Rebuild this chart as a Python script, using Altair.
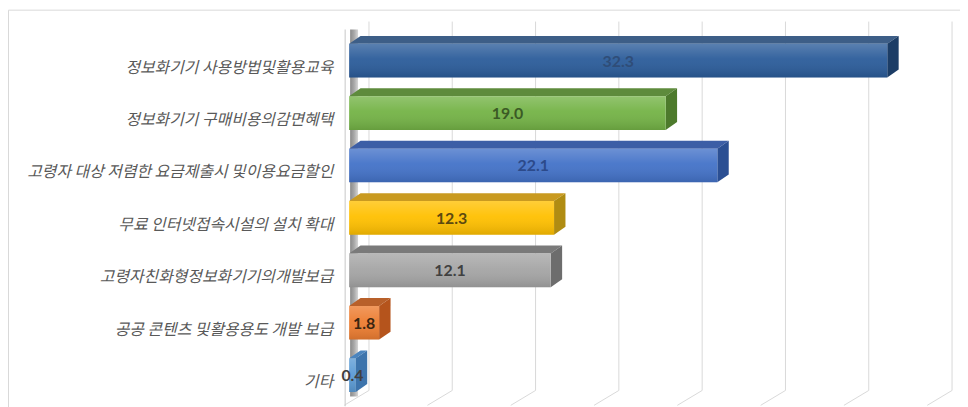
import altair as alt
import pandas as pd

# ---- data ----
categories = [
    "정보화기기 사용방법및활용교육",
    "정보화기기 구매비용의감면혜택",
    "고령자 대상 저렴한 요금제출시 및이용요금할인",
    "무료 인터넷접속시설의 설치 확대",
    "고령자친화형정보화기기의개발보급",
    "공공 콘텐츠 및활용용도 개발 보급",
    "기타",
]
values = [32.3, 19.0, 22.1, 12.3, 12.1, 1.8, 0.4]
value_labels = ["32.3", "19.0", "22.1", "12.3", "12.1", "1.8", "0.4"]
ticks = [0, 5, 10, 15, 20, 25, 30, 35]

# ---- styles ----
front_colors = ["#2b5c9a", "#74b346", "#4372c8", "#ffc000", "#a5a5a5", "#ed7d31", "#5b9bd5"]
top_colors = ["#3d5e87", "#5e8b3c", "#3c5ea6", "#c99a20", "#7a7a7a", "#b8602a", "#4a84be"]
side_colors = ["#1c3d66", "#4d7a2c", "#2b4f93", "#b08c12", "#6d6d6d", "#b5541c", "#3d74ac"]
label_colors = ["#2f4d78", "#3b5a25", "#2c4a8a", "#5c4a10", "#404040", "#3a2510", "#404040"]

HALF = 0.3216   # half bar height in category units
DX = 0.685      # bar depth in value units
DY = 0.151      # bar depth in category units
WALL_DX = 1.19  # back-wall depth in value units
FLOOR_DX = 0.30

X = alt.Scale(domain=[0, 35], range=[344, 932])
Y = alt.Scale(domain=[-0.5, 6.5], range=[25, 395])

keys = [f"k{i}" for i in range(len(categories))]

front = pd.DataFrame({
    "key": keys, "cat": categories, "v": values,
    "x0": [0.0] * len(values), "x1": values,
    "yt": [i - HALF for i in range(len(values))],
    "yb": [i + HALF for i in range(len(values))],
    "mid": [v / 2 for v in values], "idx": list(range(len(values))),
    "lab": value_labels,
})

top_rows, side_rows = [], []
for i, (k, v) in enumerate(zip(keys, values)):
    top_rows.append({"key": k, "y": i - HALF, "x": 0.0, "x2": v})
    top_rows.append({"key": k, "y": i - HALF - DY, "x": DX, "x2": v + DX})
    side_rows.append({"key": k, "x": v, "y": i - HALF, "y2": i + HALF})
    side_rows.append({"key": k, "x": v + DX, "y": i - HALF - DY, "y2": i + HALF - DY})
top_df = pd.DataFrame(top_rows)
side_df = pd.DataFrame(side_rows)
tick_df = pd.DataFrame({
    "back": [t + WALL_DX for t in ticks],
    "front": [t - FLOOR_DX for t in ticks],
})

def cscale(colors):
    return alt.Scale(domain=keys, range=colors)

# frame
frame = alt.Chart(pd.DataFrame({"a": [0]})).mark_rect(
    fill="white", stroke="#d9d9d9", strokeWidth=1
).encode(x=alt.value(0.5), x2=alt.value(1200), y=alt.value(0.5), y2=alt.value(1200))

# back wall gridlines and floor slants
grid_back = alt.Chart(tick_df).mark_rule(color="#d9d9d9", strokeWidth=1).encode(
    x=alt.X("back:Q", scale=X, axis=None), y=alt.value(12), y2=alt.value(384)
)
grid_floor = alt.Chart(tick_df).mark_rule(color="#d9d9d9", strokeWidth=1).encode(
    x=alt.X("back:Q", scale=X, axis=None), x2="front:Q", y=alt.value(384), y2=alt.value(399)
)

# left wall
wall_line = alt.Chart(pd.DataFrame({"a": [0]})).mark_rule(color="#d0d0d0", strokeWidth=1.2).encode(
    x=alt.value(340), y=alt.value(20), y2=alt.value(400)
)
wall_strip = alt.Chart(pd.DataFrame({"a": [0]})).mark_rect(
    color=alt.LinearGradient(
        gradient="linear", x1=0, x2=1, y1=0, y2=0,
        stops=[alt.GradientStop(color="#8a8a8a", offset=0),
               alt.GradientStop(color="#a8a8a8", offset=0.5),
               alt.GradientStop(color="#d6d6d6", offset=1)],
    )
).encode(x=alt.value(345), x2=alt.value(353), y=alt.value(20), y2=alt.value(390))

# bars
tops = alt.Chart(top_df).mark_area(orient="horizontal").encode(
    y=alt.Y("y:Q", scale=Y, axis=None),
    x=alt.X("x:Q", scale=X, axis=None),
    x2="x2:Q",
    detail="key:N",
    color=alt.Color("key:N", scale=cscale(top_colors), legend=None),
)
sides = alt.Chart(side_df).mark_area(orient="vertical").encode(
    x=alt.X("x:Q", scale=X, axis=None),
    y=alt.Y("y:Q", scale=Y, axis=None),
    y2="y2:Q",
    detail="key:N",
    color=alt.Color("key:N", scale=cscale(side_colors), legend=None),
)
fronts = alt.Chart(front).mark_rect().encode(
    x=alt.X("x0:Q", scale=X, axis=None), x2="x1:Q",
    y=alt.Y("yt:Q", scale=Y, axis=None), y2="yb:Q",
    color=alt.Color("key:N", scale=cscale(front_colors), legend=None),
)
shine = alt.Chart(front).mark_rect(
    color=alt.LinearGradient(
        gradient="linear", x1=0, x2=0, y1=0, y2=1,
        stops=[alt.GradientStop(color="rgba(255,255,255,0.22)", offset=0),
               alt.GradientStop(color="rgba(255,255,255,0.05)", offset=0.45),
               alt.GradientStop(color="rgba(0,0,0,0.12)", offset=1)],
    )
).encode(
    x=alt.X("x0:Q", scale=X, axis=None), x2="x1:Q",
    y=alt.Y("yt:Q", scale=Y, axis=None), y2="yb:Q",
)

value_text = alt.Chart(front).mark_text(
    font="Lato", fontSize=16, fontWeight="bold", align="center", baseline="middle", dy=1
).encode(
    x=alt.X("mid:Q", scale=X, axis=None),
    y=alt.Y("idx:Q", scale=Y, axis=None),
    text="lab:N",
    color=alt.Color("key:N", scale=cscale(label_colors), legend=None),
)

cat_text = alt.Chart(front).mark_text(
    font="Noto Sans CJK KR", fontSize=16, fontStyle="italic", color="#595959",
    align="right", baseline="middle", dy=7
).encode(
    x=alt.value(328),
    y=alt.Y("idx:Q", scale=Y, axis=None),
    text="cat:N",
)

chart = alt.layer(
    frame, grid_back, grid_floor, wall_line, wall_strip, tops, sides, fronts, shine, value_text, cat_text
).resolve_scale(color="independent").properties(
    width=960, height=400, autosize="none", padding=0
).configure_view(stroke=None)

chart.save("out.html", embed_options={"renderer": "svg", "actions": False})
